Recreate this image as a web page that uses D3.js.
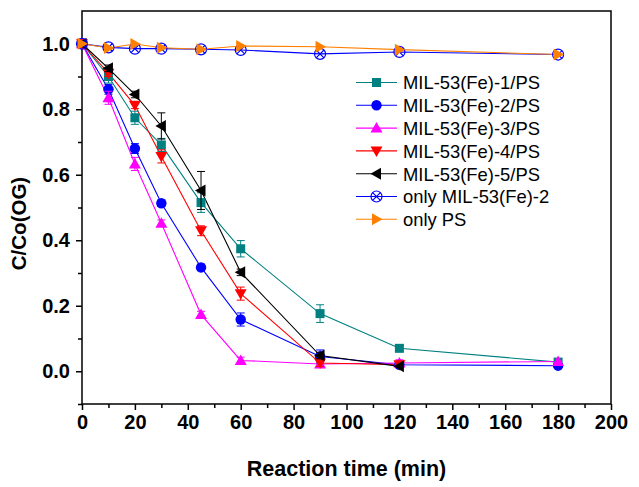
<!DOCTYPE html>
<html><head><meta charset="utf-8">
<script src="https://cdn.jsdelivr.net/npm/d3@7/dist/d3.min.js"></script>
<style>body{margin:0;background:#fff}svg{display:block}</style>
</head><body>
<script>
const seriesNames = ["MIL-53(Fe)-1/PS","MIL-53(Fe)-2/PS","MIL-53(Fe)-3/PS","MIL-53(Fe)-4/PS","MIL-53(Fe)-5/PS","only MIL-53(Fe)-2","only PS"];
const times = [0,10,20,30,45,60,90,120,180];
const times120 = [0,10,20,30,45,60,90,120];
const s1 = [1.0,0.90,0.774,0.691,0.515,0.374,0.176,0.070,0.028];
const s1err = [0,0.02,0.02,0.02,0.03,0.025,0.027,0,0];
const s2 = [1.0,0.861,0.680,0.513,0.317,0.158,0.045,0.020,0.017];
const s2err = [0.01,0.015,0.015,0.01,0.01,0.02,0.02,0,0];
const s3 = [1.0,0.835,0.633,0.452,0.173,0.033,0.022,0.025,0.030];
const s3err = [0,0.02,0.02,0.01,0.01,0.01,0.01,0.01,0];
const s4 = [1.0,0.91,0.812,0.656,0.429,0.237,0.025,0.020];
const s4err = [0,0.01,0.01,0.02,0.015,0.02,0.01,0];
const s5 = [1.0,0.925,0.845,0.749,0.552,0.302,0.048,0.015];
const s5err = [0,0.01,0.01,0.04,0.058,0.01,0.01,0];
const s6 = [1.0,0.989,0.985,0.985,0.983,0.981,0.969,0.975,0.967];
const s7 = [1.0,0.987,0.999,0.988,0.983,0.993,0.991,0.982,0.967];
const xTicks = [0,20,40,60,80,100,120,140,160,180,200];
const yTicks = [0.0,0.2,0.4,0.6,0.8,1.0];

const series = [
  {name:seriesNames[0], x:times, y:s1, e:s1err, color:"#008080", shape:"square"},
  {name:seriesNames[1], x:times, y:s2, e:s2err, color:"#0000ff", shape:"circle"},
  {name:seriesNames[2], x:times, y:s3, e:s3err, color:"#ff00ff", shape:"up"},
  {name:seriesNames[3], x:times120, y:s4, e:s4err, color:"#ff0000", shape:"down"},
  {name:seriesNames[4], x:times120, y:s5, e:s5err, color:"#000000", shape:"left"},
  {name:seriesNames[5], x:times, y:s6, e:null, color:"#0000ff", shape:"xcircle"},
  {name:seriesNames[6], x:times, y:s7, e:null, color:"#ff8000", shape:"right"}
];

const W=639,H=487;
const svg=d3.select("body").append("svg").attr("width",W).attr("height",H);
const L=82,R=611,T=11,B=404;
const x=d3.scaleLinear().domain([0,200]).range([L,R]);
const y=d3.scaleLinear().domain([-0.1,1.1]).range([B,T]);
const font="'Liberation Sans', Arial, sans-serif";

svg.append("rect").attr("x",L).attr("y",T).attr("width",R-L).attr("height",B-T)
  .attr("fill","none").attr("stroke","#000").attr("stroke-width",1.5);

const xa=svg.append("g").attr("transform",`translate(0,${B})`)
  .call(d3.axisBottom(x).tickValues(xTicks).tickFormat(d3.format("d")).tickSize(6).tickPadding(5));
const xm=svg.append("g").attr("transform",`translate(0,${B})`)
  .call(d3.axisBottom(x).tickValues(d3.range(10,200,20)).tickFormat("").tickSize(4));
const ya=svg.append("g").attr("transform",`translate(${L},0)`)
  .call(d3.axisLeft(y).tickValues(yTicks).tickFormat(d3.format(".1f")).tickSize(6).tickPadding(6));
const ym=svg.append("g").attr("transform",`translate(${L},0)`)
  .call(d3.axisLeft(y).tickValues([-0.1,0.1,0.3,0.5,0.7,0.9]).tickFormat("").tickSize(4));
[xa,xm,ya,ym].forEach(g=>{
  g.select(".domain").remove();
  g.selectAll("line").attr("stroke","#000").attr("stroke-width",1.5);
  g.selectAll("text").attr("font-family",font).attr("font-weight","bold").attr("font-size",20).attr("fill","#000");
});

svg.append("text").attr("x",(L+R)/2).attr("y",476).attr("text-anchor","middle")
  .attr("font-family",font).attr("font-weight","bold").attr("font-size",21.5).text("Reaction time (min)");
svg.append("text").attr("transform",`translate(26,${(T+B)/2+16}) rotate(-90)`).attr("text-anchor","middle")
  .attr("font-family",font).attr("font-weight","bold").attr("font-size",20.5).text("C/Co(OG)");

function drawMarker(g,shape,color,cx,cy){
  if(shape==="square") g.append("rect").attr("x",cx-4.5).attr("y",cy-4.5).attr("width",9).attr("height",9).attr("fill",color);
  else if(shape==="circle") g.append("circle").attr("cx",cx).attr("cy",cy).attr("r",5.2).attr("fill",color);
  else if(shape==="up") g.append("path").attr("d",`M${cx},${cy-6}L${cx+6},${cy+4.5}L${cx-6},${cy+4.5}Z`).attr("fill",color);
  else if(shape==="down") g.append("path").attr("d",`M${cx},${cy+6}L${cx+6},${cy-4.5}L${cx-6},${cy-4.5}Z`).attr("fill",color);
  else if(shape==="left") g.append("path").attr("d",`M${cx-6},${cy}L${cx+4.5},${cy-6}L${cx+4.5},${cy+6}Z`).attr("fill",color);
  else if(shape==="right") g.append("path").attr("d",`M${cx+6},${cy}L${cx-4.5},${cy-6}L${cx-4.5},${cy+6}Z`).attr("fill",color);
  else if(shape==="xcircle"){
    g.append("circle").attr("cx",cx).attr("cy",cy).attr("r",5.5).attr("fill","none").attr("stroke",color).attr("stroke-width",1.2);
    const d=3.9;
    g.append("path").attr("d",`M${cx-d},${cy-d}L${cx+d},${cy+d}M${cx-d},${cy+d}L${cx+d},${cy-d}`).attr("stroke",color).attr("stroke-width",1.2);
  }
}

const plot=svg.append("g");
const line=d3.line().x(d=>x(d[0])).y(d=>y(d[1]));
series.forEach(s=>{
  const pts=s.x.map((t,i)=>[t,s.y[i]]);
  plot.append("path").datum(pts).attr("d",line).attr("fill","none").attr("stroke",s.color).attr("stroke-width",1.1);
});
series.forEach(s=>{
  const g=plot.append("g");
  s.x.forEach((t,i)=>{
    if(s.e && s.e[i]>0){
      const cx=x(t),y1=y(s.y[i]+s.e[i]),y2=y(s.y[i]-s.e[i]);
      g.append("path").attr("d",`M${cx},${y1}L${cx},${y2}M${cx-4},${y1}L${cx+4},${y1}M${cx-4},${y2}L${cx+4},${y2}`)
        .attr("stroke",s.color).attr("stroke-width",1).attr("fill","none");
    }
  });
  s.x.forEach((t,i)=>drawMarker(g,s.shape,s.color,x(t),y(s.y[i])));
});

const lg=svg.append("g");
series.forEach((s,i)=>{
  const ly=82.5+i*22.8;
  lg.append("line").attr("x1",356).attr("x2",397).attr("y1",ly).attr("y2",ly).attr("stroke",s.color).attr("stroke-width",1.1);
  drawMarker(lg,s.shape,s.color,376.5,ly);
  lg.append("text").attr("x",403).attr("y",ly+6.8).attr("font-family",font).attr("font-size",18.4).attr("fill","#000").text(s.name);
});
</script>
</body></html>
